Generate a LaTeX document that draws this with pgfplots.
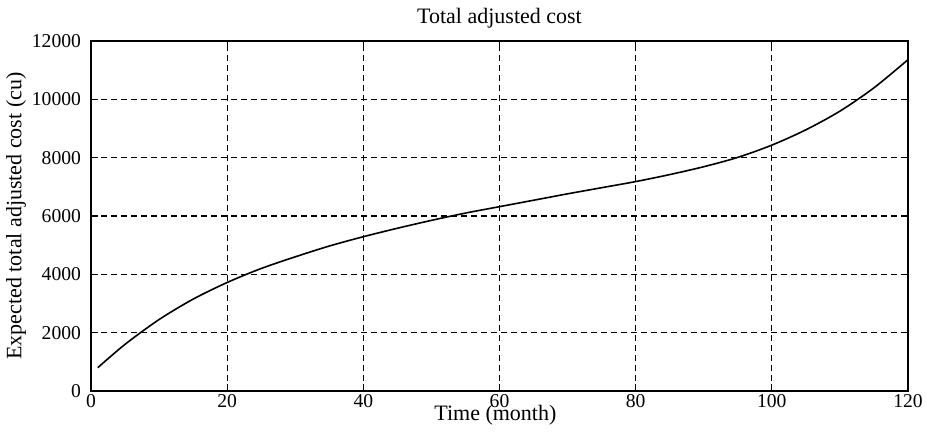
\documentclass[border=0pt]{standalone}
\usepackage{pgfplots}
\pgfplotsset{compat=1.18}
\usepackage{fontspec}
\setmainfont{Liberation Serif}
\begin{document}
\begin{tikzpicture}
\begin{axis}[
  scale only axis,
  width=408.5pt, height=175pt,
  xmin=0, xmax=120, ymin=0, ymax=12000,
  xtick={0,20,40,60,80,100,120},
  ytick={0,2000,4000,6000,8000,10000,12000},
  scaled y ticks=false,
  /pgf/number format/assume math mode=true,
  /pgf/number format/1000 sep={},
  tick label style={font=\fontsize{9.8}{11}\selectfont},
  label style={font=\fontsize{11}{13}\selectfont},
  every axis title shift=0pt,
  title style={font=\fontsize{11}{13}\selectfont, at={(axis description cs:0.5,1.05)}, anchor=base},
  title={Total adjusted cost},
  xlabel={Time (month)},
  ylabel={Expected total adjusted cost (cu)},
  xlabel style={at={(axis description cs:0.495,-0.085)}, anchor=base},
  ylabel style={at={(axis description cs:-0.0918,0.5)}, anchor=center},
  xticklabel style={anchor=base, yshift=-8.5pt},
  yticklabel style={xshift=-1.5pt},
  grid=major,
  major grid style={black, dash pattern=on 3pt off 2pt, line width=0.6pt},
  tick align=inside,
  major tick length=3.5pt,
  tick style={black, line width=0.6pt},
  axis line style={black, line width=0.75pt},
]
\addplot[black, line width=0.8pt, smooth] coordinates {
(1,800) (5,1600) (10,2450) (15,3150) (20,3720) (25,4200) (30,4600) (35,4970)
(40,5290) (45,5580) (50,5850) (55,6100) (60,6320) (65,6540) (70,6760)
(75,6970) (80,7180) (85,7420) (90,7690) (95,8010) (100,8430) (105,8955)
(110,9595) (115,10395) (120,11360)
};
\end{axis}
\pgfresetboundingbox
\path[use as bounding box] ([shift={(-45.5pt,-21.5pt)}]current axis.south west) rectangle ([shift={(9.5pt,20.5pt)}]current axis.north east);
\end{tikzpicture}
\end{document}
